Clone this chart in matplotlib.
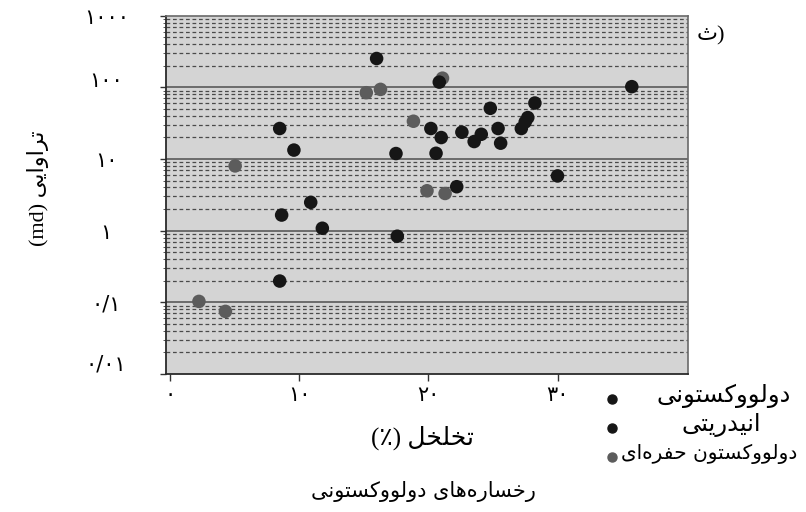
import matplotlib
matplotlib.use("Agg")
import matplotlib.pyplot as plt
from matplotlib.lines import Line2D
from matplotlib.ticker import FixedLocator, LogLocator, NullFormatter
from matplotlib.transforms import ScaledTranslation

# ---------------------------------------------------------------- data
# porosity (%) and permeability (md)
dolo_porosity = [16.0, 20.85, 8.5, 9.6, 17.5, 20.2, 21.0, 20.6, 22.6, 23.55,
                 24.1, 24.8, 25.4, 25.6, 27.2, 27.5, 27.7, 28.25, 35.75]
dolo_perm = [252, 118, 26.6, 13.3, 11.9, 26.6, 19.9, 12.0, 23.6, 17.5,
             22.1, 50.9, 26.6, 16.6, 26.6, 32.8, 37.8, 60.3, 102]

anhy_porosity = [8.65, 10.9, 11.8, 17.6, 8.5, 22.2, 30.0]
anhy_perm = [1.65, 2.48, 1.08, 0.836, 0.198, 4.1, 5.8]

vug_porosity = [2.25, 4.3, 5.05, 15.2, 16.3, 18.85, 19.9, 21.3, 21.1]
vug_perm = [0.103, 0.0747, 8.0, 84, 93.5, 33.6, 3.6, 3.3, 134]

x_ticks = [0, 10, 20, 30]
x_tick_labels = ["۰", "۱۰", "۲۰", "۳۰"]
y_ticks = [0.01, 0.1, 1, 10, 100, 1000]
y_tick_labels = ["۰/۰۱", "۰/۱", "۱", "۱۰", "۱۰۰", "۱۰۰۰"]

series_names = ["دولووکستونی", "انیدریتی", "دولووکستون حفره‌ای"]
x_label_word = "تخلخل"
y_label_word = "تراوایی"
facies_title = "رخساره‌های دولووکستونی"
panel_tag = "ث"

# ------------------------------------------------- simple Arabic shaping
# (isolated, final, initial, medial) presentation forms
FORMS = {
    "\u0627": ("\uFE8D", "\uFE8E", None, None),           # alef
    "\u062A": ("\uFE95", "\uFE96", "\uFE97", "\uFE98"),   # teh
    "\u062B": ("\uFE99", "\uFE9A", "\uFE9B", "\uFE9C"),   # theh
    "\u062D": ("\uFEA1", "\uFEA2", "\uFEA3", "\uFEA4"),   # hah
    "\u062E": ("\uFEA5", "\uFEA6", "\uFEA7", "\uFEA8"),   # khah
    "\u062F": ("\uFEA9", "\uFEAA", None, None),           # dal
    "\u0631": ("\uFEAD", "\uFEAE", None, None),           # reh
    "\u0633": ("\uFEB1", "\uFEB2", "\uFEB3", "\uFEB4"),   # seen
    "\u0641": ("\uFED1", "\uFED2", "\uFED3", "\uFED4"),   # feh
    "\u0644": ("\uFEDD", "\uFEDE", "\uFEDF", "\uFEE0"),   # lam
    "\u0646": ("\uFEE5", "\uFEE6", "\uFEE7", "\uFEE8"),   # noon
    "\u0647": ("\uFEE9", "\uFEEA", "\uFEEB", "\uFEEC"),   # heh
    "\u0648": ("\uFEED", "\uFEEE", None, None),           # waw
    "\u06A9": ("\uFB8E", "\uFB8F", "\uFB90", "\uFB91"),   # keheh
    "\u06CC": ("\uFBFC", "\uFBFD", "\uFBFE", "\uFBFF"),   # farsi yeh
}


def _dual(c):
    return c in FORMS and FORMS[c][2] is not None


def rtl(text):
    out = []
    for i, c in enumerate(text):
        if c not in FORMS:
            out.append(c)
            continue
        iso, fin, ini, med = FORMS[c]
        prev = text[i - 1] if i > 0 else ""
        nxt = text[i + 1] if i + 1 < len(text) else ""
        jp = _dual(prev)
        jn = ini is not None and nxt in FORMS
        if jp and jn:
            out.append(med)
        elif jp:
            out.append(fin)
        elif jn:
            out.append(ini)
        else:
            out.append(iso)
    return "".join(out).replace("\u200c", "")[::-1]


plt.rcParams["font.family"] = ["Liberation Serif", "DejaVu Sans"]

# ---------------------------------------------------------------- figure
fig = plt.figure(figsize=(8.06, 5.12), dpi=100)
W, H = 806, 512
ax = fig.add_axes([166 / W, 1 - 374 / H, (688 - 166) / W, (374 - 15.6) / H])
ax.set_facecolor("#d4d4d4")
ax.set_yscale("log")
ax.set_xlim(-0.3, 40.1)
ax.set_ylim(0.01, 1000)

# grid: solid decade lines, dashed lines in between
for v in [0.1, 1, 10, 100]:
    ax.axhline(v, color="#505050", lw=1.1, zorder=1)
for dec in [0.01, 0.1, 1, 10, 100]:
    for m in range(2, 10):
        ax.axhline(dec * m, color="#4a4a4a", lw=0.9, ls=(0, (3, 2.2)), zorder=1)

ax.scatter(vug_porosity, vug_perm, s=95, color="#5c5c5c", edgecolors="none", zorder=3)
ax.scatter(anhy_porosity, anhy_perm, s=95, color="#161616", edgecolors="none", zorder=4)
ax.scatter(dolo_porosity, dolo_perm, s=95, color="#161616", edgecolors="none", zorder=4)

ax.xaxis.set_major_locator(FixedLocator(x_ticks))
ax.set_xticklabels(x_tick_labels, fontsize=15, family="DejaVu Sans")
ax.yaxis.set_major_locator(FixedLocator(y_ticks))
ax.set_yticklabels(y_tick_labels, fontsize=15, family="DejaVu Sans")
ax.yaxis.set_minor_locator(LogLocator(base=10, subs=range(2, 10)))
ax.yaxis.set_minor_formatter(NullFormatter())
ax.tick_params(axis="y", which="major", length=4, width=1, pad=39, color="#333")
ax.tick_params(axis="y", which="minor", length=2, width=0.7, color="#555")
ax.tick_params(axis="x", which="major", length=5, width=1, pad=3, color="#333")

# centred permeability labels, a few nudged upward
nudge_px = {100: 8, 0.01: 12}
for tick_val, lbl in zip(y_ticks, ax.get_yticklabels()):
    lbl.set_ha("center")
    dy = nudge_px.get(tick_val, 0)
    if dy:
        lbl.set_transform(lbl.get_transform() +
                          ScaledTranslation(0, dy / 100, fig.dpi_scale_trans))

for side in ["left", "bottom"]:
    ax.spines[side].set_color("#2a2a2a")
    ax.spines[side].set_linewidth(1.3)
for side in ["top", "right"]:
    ax.spines[side].set_color("#6a6a6a")
    ax.spines[side].set_linewidth(1.2)

# axis titles
fig.text(422 / W, 1 - 438 / H, "(٪) " + rtl(x_label_word), fontsize=18,
         ha="center", va="center")
fig.text(38 / W, 1 - 188 / H, "(md) " + rtl(y_label_word), fontsize=16,
         ha="center", va="center", rotation=90)

fig.text(423 / W, 1 - 492 / H, rtl(facies_title), fontsize=15,
         ha="center", va="center", family="DejaVu Sans")
fig.text(711 / W, 1 - 36 / H, rtl(panel_tag) + ")", fontsize=16,
         ha="center", va="center")

# legend below the plot on the right
legend_rows = [
    (399, 724, "center", 17.5, "#161616", series_names[0]),
    (428, 721, "center", 17.5, "#161616", series_names[1]),
    (457, 797, "right", 14.5, "#5c5c5c", series_names[2]),
]
for y, tx, ha, fs, col, name in legend_rows:
    fig.add_artist(Line2D([612 / W], [1 - y / H], transform=fig.transFigure,
                          marker="o", ms=6.5, color=col, ls="none"))
    fig.text(tx / W, 1 - (y - 3) / H, rtl(name), fontsize=fs,
             ha=ha, va="center", family="DejaVu Sans")

fig.savefig("out.png", dpi=100)
